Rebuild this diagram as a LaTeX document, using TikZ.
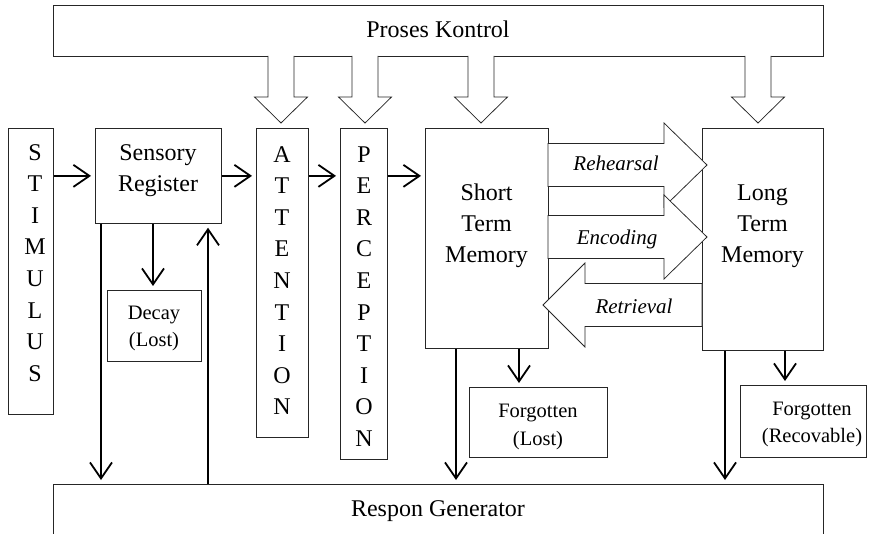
\documentclass[tikz,border=0pt]{standalone}
\usepackage{fontspec}
\setmainfont{Liberation Serif}
\usetikzlibrary{arrows.meta}

\begin{document}
\begin{tikzpicture}[x=1pt,y=-1pt,
  box/.style={draw=black!85, line width=0.75pt, fill=white, inner sep=0pt, anchor=north west},
  bigtxt/.style={font=\fontsize{24}{31}\selectfont, align=center, inner sep=0pt, anchor=base},
  lettxt/.style={font=\fontsize{24}{31.6}\selectfont, align=center, inner sep=0pt, anchor=base},
  smalltxt/.style={font=\fontsize{20.5}{27.5}\selectfont, align=center, inner sep=0pt, anchor=base},
  arrtxt/.style={font=\fontsize{21}{25}\selectfont\itshape, inner sep=0pt, anchor=base},
  flow/.style={line width=1.8pt, -{Straight Barb[length=16pt,width=22pt]}, shorten >=4pt},
  fat/.style={draw=black!85, line width=0.75pt, fill=white, line join=miter},
]
\useasboundingbox (0,0) rectangle (888,534);

% boxes (top-left corner, width, height)
\node[box, minimum width=770pt, minimum height=51pt] (pk) at (53,5) {};
\node[box, minimum width=770pt, minimum height=90pt] (resp) at (53,484) {};
\node[box, minimum width=45pt, minimum height=286pt] (stim) at (8,128) {};
\node[box, minimum width=126pt, minimum height=95pt] (sens) at (95,128) {};
\node[box, minimum width=52pt, minimum height=309pt] (att) at (256,128) {};
\node[box, minimum width=47pt, minimum height=331pt] (per) at (340,128) {};
\node[box, minimum width=123pt, minimum height=220pt] (stm) at (425,128) {};
\node[box, minimum width=121pt, minimum height=222pt] (ltm) at (702,128) {};
\node[box, minimum width=94pt, minimum height=71pt] (decay) at (107,290) {};
\node[box, minimum width=138pt, minimum height=70pt] (fl) at (469,387) {};
\node[box, minimum width=126pt, minimum height=72pt] (fr) at (740,385) {};

% hollow control arrows from Proses Kontrol
\newcommand\downfat[1]{%
  \draw[fat] (#1-13,56) -- (#1-13,97) -- (#1-26.5,97) -- (#1,123)
    -- (#1+26.5,97) -- (#1+13,97) -- (#1+13,56);}
\downfat{281}
\downfat{365}
\downfat{481}
\downfat{758}

% hollow arrows between short and long term memory
\newcommand\rightfat[1]{%
  \draw[fat] (548,#1-21.5) -- (664,#1-21.5) -- (664,#1-42) -- (707,#1)
    -- (664,#1+42) -- (664,#1+21.5) -- (548,#1+21.5) -- cycle;}
\rightfat{165}
\rightfat{237}
\draw[fat] (702,283.5) -- (585,283.5) -- (585,263) -- (543,305)
  -- (585,347) -- (585,326.5) -- (702,326.5) -- cycle;

% thin flow arrows
\coordinate (xa) at (101,0);
\coordinate (xb) at (153,0);
\coordinate (xc) at (208,0);
\coordinate (xd) at (456,0);
\coordinate (xe) at (519,0);
\coordinate (xf) at (725,0);
\coordinate (xg) at (785,0);
\draw[flow] (stim.east |- sens.west) -- (sens.west);
\draw[flow] (sens.east) -- (att.west |- sens.east);
\draw[flow] (att.east |- sens.east) -- (per.west |- sens.east);
\draw[flow] (per.east |- sens.east) -- (stm.west |- sens.east);
\draw[flow] (sens.south -| xa) -- (resp.north -| xa);
\draw[flow] (sens.south -| xb) -- (decay.north -| xb);
\draw[flow] (resp.north -| xc) -- (sens.south -| xc);
\draw[flow] (stm.south -| xd) -- (resp.north -| xd);
\draw[flow] (stm.south -| xe) -- (fl.north -| xe);
\draw[flow] (ltm.south -| xf) -- (resp.north -| xf);
\draw[flow] (ltm.south -| xg) -- (fr.north -| xg);

% labels (anchored at the baseline of their last line)
\node[bigtxt] (pkT) at (438,37.5) {Proses Kontrol};
\node[bigtxt] (respT) at (438,516) {Respon Generator};
\node[lettxt] (stimT) at (35,381.2) {S\\T\\I\\M\\U\\L\\U\\S};
\node[lettxt] (attT) at (282,414.8) {A\\T\\T\\E\\N\\T\\I\\O\\N};
\node[lettxt] (perT) at (364,446.4) {P\\E\\R\\C\\E\\P\\T\\I\\O\\N};
\node[bigtxt] (sensT) at (158,192) {Sensory\\Register};
\node[bigtxt] (stmT) at (486.5,263) {Short\\Term\\Memory};
\node[bigtxt] (ltmT) at (762.5,263) {Long\\Term\\Memory};
\node[smalltxt] (decayT) at (154,346.5) {Decay\\(Lost)};
\node[smalltxt] (flT) at (538,445) {Forgotten\\(Lost)};
\node[smalltxt] (frT) at (812,442.5) {Forgotten\\(Recovable)};
\node[arrtxt] (rehT) at (616,171) {Rehearsal};
\node[arrtxt] (encT) at (617,245) {Encoding};
\node[arrtxt] (retT) at (634,314) {Retrieval};
\end{tikzpicture}
\end{document}
